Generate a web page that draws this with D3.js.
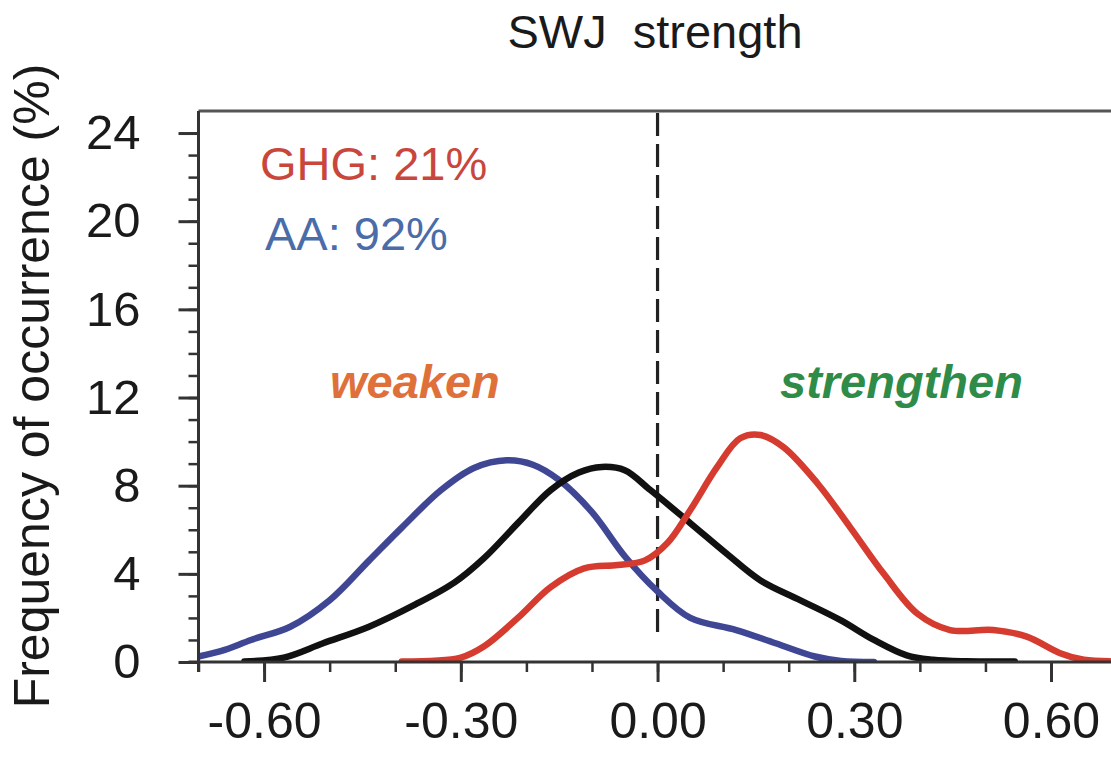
<!DOCTYPE html>
<html>
<head>
<meta charset="utf-8">
<script src="https://cdn.jsdelivr.net/npm/d3@7"></script>
<style>
  html, body { margin: 0; padding: 0; background: #fff; }
  svg { display: block; }
  text { font-family: "Liberation Sans", Arial, Helvetica, sans-serif; }
</style>
</head>
<body>
<svg id="chart" width="1111" height="763"></svg>
<script>
// ---- data ----
const xMajorTicks = [-0.60, -0.30, 0.00, 0.30, 0.60];
const xTickLabels = ["-0.60", "-0.30", "0.00", "0.30", "0.60"];
const xMinorTicks = [-0.7, -0.6, -0.5, -0.4, -0.3, -0.2, -0.1, 0.0, 0.1, 0.2, 0.3, 0.4, 0.5, 0.6, 0.7];
const yMajorTicks = [0, 4, 8, 12, 16, 20, 24];
const yMinorTicks = [0, 1, 2, 3, 4, 5, 6, 7, 8, 9, 10, 11, 12, 13, 14, 15, 16, 17, 18, 19, 20, 21, 22, 23, 24];

const aaX = [-0.70, -0.66, -0.62, -0.56, -0.50, -0.44, -0.39, -0.33, -0.28, -0.23, -0.19, -0.15, -0.10, -0.05, 0.00, 0.05, 0.12, 0.18, 0.24, 0.28, 0.33];
const aaY = [0.25, 0.55, 1.0, 1.6, 2.8, 4.6, 6.1, 7.8, 8.8, 9.15, 8.95, 8.25, 6.8, 4.8, 3.2, 2.0, 1.45, 0.85, 0.25, 0.05, 0.0];

const allX = [-0.63, -0.57, -0.51, -0.44, -0.37, -0.31, -0.265, -0.213, -0.163, -0.12, -0.085, -0.05, -0.011, 0.05, 0.106, 0.157, 0.218, 0.279, 0.33, 0.38, 0.42, 0.47, 0.545];
const allY = [0.02, 0.2, 0.85, 1.6, 2.6, 3.6, 4.7, 6.3, 7.8, 8.6, 8.85, 8.7, 7.8, 6.3, 4.9, 3.7, 2.8, 1.9, 1.0, 0.3, 0.1, 0.03, 0.02];

const ghgX = [-0.39, -0.30, -0.265, -0.213, -0.163, -0.112, -0.061, -0.02, 0.015, 0.05, 0.091, 0.126, 0.157, 0.192, 0.244, 0.294, 0.345, 0.396, 0.446, 0.512, 0.563, 0.614, 0.65, 0.69];
const ghgY = [0.02, 0.2, 0.7, 2.0, 3.4, 4.25, 4.4, 4.6, 5.4, 6.9, 8.85, 10.15, 10.3, 9.75, 8.1, 6.1, 4.0, 2.2, 1.45, 1.45, 1.15, 0.4, 0.1, 0.03];

const titleText = "SWJ  strength";
const yTitle = "Frequency of occurrence (%)";
const ghgLabel = "GHG: 21%";
const aaLabel = "AA: 92%";

// ---- drawing ----
const svg = d3.select("#chart");
const x = d3.scaleLinear().domain([-0.7, 0.7]).range([198.5, 1116.6]);
const y = d3.scaleLinear().domain([0, 25]).range([662, 111]);

svg.append("defs").append("clipPath").attr("id", "plotclip")
  .append("rect").attr("x", x(-0.7)).attr("y", y(25)).attr("width", x(0.7) - x(-0.7)).attr("height", y(0) - y(25));

const axisColor = "#333";

// top frame line
svg.append("line").attr("x1", x(-0.7)).attr("x2", x(0.7)).attr("y1", y(25)).attr("y2", y(25))
  .attr("stroke", "#555").attr("stroke-width", 3);
// right frame line (falls just outside the view)
svg.append("line").attr("x1", x(0.7)).attr("x2", x(0.7)).attr("y1", y(25)).attr("y2", y(0))
  .attr("stroke", "#555").attr("stroke-width", 3);

// dashed zero line
svg.append("line").attr("x1", x(0)).attr("x2", x(0)).attr("y1", y(25) + 2).attr("y2", 633)
  .attr("stroke", "#222").attr("stroke-width", 3.2).attr("stroke-dasharray", "23,8");

// curves
const line = d3.line().x(d => x(d[0])).y(d => y(d[1])).curve(d3.curveCatmullRom.alpha(0.5));
const curves = [
  { xs: aaX, ys: aaY, color: "#3f4795" },
  { xs: allX, ys: allY, color: "#111111" },
  { xs: ghgX, ys: ghgY, color: "#d63b2f" }
];
const gCurves = svg.append("g").attr("clip-path", "url(#plotclip)");
curves.forEach(c => {
  gCurves.append("path")
    .datum(c.xs.map((v, i) => [v, c.ys[i]]))
    .attr("d", line)
    .attr("fill", "none")
    .attr("stroke", c.color)
    .attr("stroke-width", 6.5)
    .attr("stroke-linejoin", "round")
    .attr("stroke-linecap", "round");
});

// x axis: minor ticks
svg.append("g").attr("transform", `translate(0,${y(0)})`)
  .call(d3.axisBottom(x).tickValues(xMinorTicks).tickSize(10).tickFormat(""))
  .call(g => g.select(".domain").remove())
  .call(g => g.selectAll("line").attr("stroke", axisColor).attr("stroke-width", 2.5));
// x axis: major ticks + labels
svg.append("g").attr("transform", `translate(0,${y(0)})`)
  .call(d3.axisBottom(x).tickValues(xMajorTicks).tickSize(20).tickPadding(20)
    .tickFormat((d, i) => xTickLabels[i]).tickSizeOuter(0))
  .call(g => g.select(".domain").attr("stroke", axisColor).attr("stroke-width", 3)
    .attr("d", `M${x(-0.7) - 10},0H${x(0.7)}`))
  .call(g => g.selectAll("line").attr("stroke", axisColor).attr("stroke-width", 3))
  .call(g => g.selectAll("text").attr("font-size", 50).attr("fill", "#1a1a1a")
    .attr("font-family", "'Liberation Sans', Arial, sans-serif"));

// y axis: minor ticks
svg.append("g").attr("transform", `translate(${x(-0.7)},0)`)
  .call(d3.axisLeft(y).tickValues(yMinorTicks).tickSize(10).tickFormat(""))
  .call(g => g.select(".domain").remove())
  .call(g => g.selectAll("line").attr("stroke", axisColor).attr("stroke-width", 2.5));
// y axis: major ticks + labels
svg.append("g").attr("transform", `translate(${x(-0.7)},0)`)
  .call(d3.axisLeft(y).tickValues(yMajorTicks).tickSize(20).tickPadding(38).tickSizeOuter(0))
  .call(g => g.select(".domain").attr("stroke", axisColor).attr("stroke-width", 3)
    .attr("d", `M0,${y(25)}V${y(0) + 10}`))
  .call(g => g.selectAll("line").attr("stroke", axisColor).attr("stroke-width", 3))
  .call(g => g.selectAll("text").attr("font-size", 49).attr("fill", "#1a1a1a")
    .attr("font-family", "'Liberation Sans', Arial, sans-serif"));

// title
svg.append("text").attr("x", 655).attr("y", 48).attr("text-anchor", "middle")
  .attr("font-size", 47).attr("fill", "#1a1a1a").style("white-space", "pre").text(titleText);

// y title
svg.append("text").attr("transform", "translate(49,386) rotate(-90)").attr("text-anchor", "middle")
  .attr("font-size", 50).attr("fill", "#1a1a1a").text(yTitle);

// annotations
svg.append("text").attr("x", 260).attr("y", 180).attr("font-size", 47).attr("fill", "#c9463d").text(ghgLabel);
svg.append("text").attr("x", 265).attr("y", 250).attr("font-size", 47).attr("fill", "#4a6ca8").text(aaLabel);
svg.append("text").attr("x", 330).attr("y", 398).attr("font-size", 47).attr("font-weight", "bold")
  .attr("font-style", "italic").attr("fill", "#e0703a").text("weaken");
svg.append("text").attr("x", 780).attr("y", 398).attr("font-size", 47).attr("font-weight", "bold")
  .attr("font-style", "italic").attr("fill", "#2e8c48").text("strengthen");
</script>
</body>
</html>
